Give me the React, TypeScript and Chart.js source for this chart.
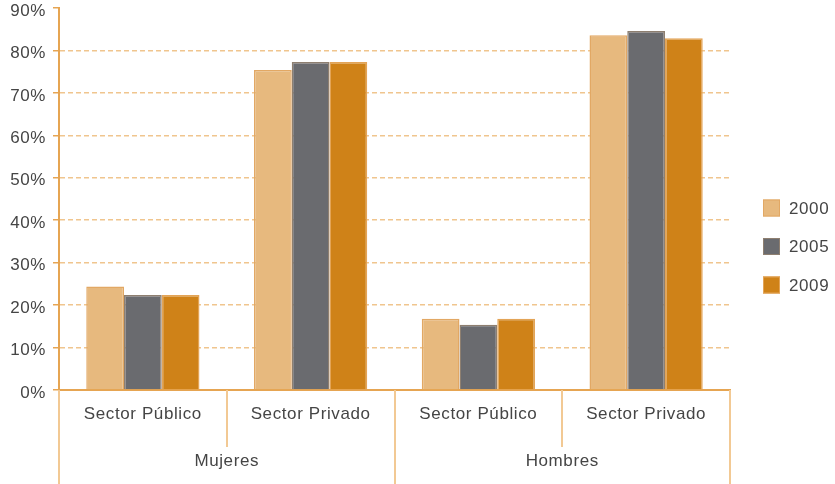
import React, { useEffect, useRef } from "react";
import { Chart, registerables } from "chart.js";

Chart.register(...registerables);

const categories = ["Sector Público", "Sector Privado", "Sector Público", "Sector Privado"];
const groups = ["Mujeres", "Hombres"];
const years = ["2000", "2005", "2009"];
const values2000 = [24.4, 75.4, 16.8, 83.6];
const values2005 = [22.4, 77.3, 15.4, 84.6];
const values2009 = [22.4, 77.3, 16.8, 82.9];
const yTicks = [0, 10, 20, 30, 40, 50, 60, 70, 80, 90];

const FONT = "'Liberation Sans', Arial, sans-serif";
const TEXT = "#454545";
const AXIS = "#E6A552";
const GRID = "#F0C58E";
const SEP = "#F2C994";

const spacingPlugin = {
  id: "spacing",
  beforeDraw(chart: any) {
    (chart.ctx as any).letterSpacing = "0.6px";
  },
};

const decorPlugin = {
  id: "decor",
  afterDraw(chart: any) {
    const ctx = chart.ctx;
    const x = chart.scales.x;
    const area = chart.chartArea;
    const n = categories.length;
    const step = (x.getPixelForValue(1) - x.getPixelForValue(0));
    ctx.save();
    (ctx as any).letterSpacing = "0.6px";
    ctx.strokeStyle = SEP;
    ctx.lineWidth = 2;
    for (let i = 0; i <= n; i++) {
      const px = Math.round(x.getPixelForValue(0) - step / 2 + i * step);
      const isGroupEdge = i % 2 === 0;
      ctx.beginPath();
      ctx.moveTo(px, area.bottom);
      ctx.lineTo(px, isGroupEdge ? chart.height : area.bottom + 57);
      ctx.stroke();
    }
    ctx.fillStyle = TEXT;
    ctx.font = `17px ${FONT}`;
    ctx.textAlign = "center";
    ctx.textBaseline = "middle";
    groups.forEach((g, gi) => {
      const cx = x.getPixelForValue(gi * 2) + step / 2;
      ctx.fillText(g, cx, area.bottom + 71);
    });
    // legend
    const ds = chart.data.datasets;
    const lx = area.right + 33;
    const startY = 208;
    ds.forEach((d: any, i: number) => {
      const cy = startY + i * 38.5;
      ctx.fillStyle = d.backgroundColor;
      ctx.fillRect(lx, cy - 8.5, 17, 17);
      ctx.strokeStyle = d.borderColor;
      ctx.lineWidth = 1;
      ctx.strokeRect(lx + 0.5, cy - 8, 16, 16);
      ctx.fillStyle = TEXT;
      ctx.textAlign = "left";
      ctx.fillText(d.label, lx + 26, cy + 1);
    });
    ctx.restore();
  },
};

export default function App() {
  const ref = useRef<HTMLCanvasElement>(null);
  useEffect(() => {
    document.body.style.margin = "0";
    const chart = new Chart(ref.current!, {
      type: "bar",
      data: {
        labels: categories,
        datasets: [
          { label: years[0], data: values2000, backgroundColor: "#E7B97E", borderColor: "#E2A864", borderWidth: 1.5 },
          { label: years[1], data: values2005, backgroundColor: "#6A6B6F", borderColor: "#8E7F70", borderWidth: 1.5 },
          { label: years[2], data: values2009, backgroundColor: "#CF8218", borderColor: "#E3A457", borderWidth: 1.5 },
        ],
      },
      options: {
        animation: false,
        responsive: true,
        maintainAspectRatio: false,
        datasets: { bar: { barPercentage: 1, categoryPercentage: 0.675 } },
        layout: { padding: { top: 8, right: 105, left: 0, bottom: 0 } },
        plugins: { legend: { display: false }, tooltip: { enabled: false } },
        scales: {
          x: {
            grid: { display: false, drawTicks: false },
            border: { display: true, color: AXIS, width: 2 },
            ticks: { color: TEXT, font: { family: FONT, size: 17 }, padding: 14, maxRotation: 0 },
            afterFit: (s: any) => { s.height = 94; s.paddingLeft = 0; s.paddingRight = 0; },
          },
          y: {
            min: 0,
            max: 90,
            afterBuildTicks: (s: any) => { s.ticks = yTicks.map((v) => ({ value: v })); },
            grid: {
              color: (c: any) => (c.tick && (c.tick.value === 0 || c.tick.value === 90) ? "rgba(0,0,0,0)" : GRID),
              tickColor: AXIS,
              lineWidth: 1.5,
              tickLength: 6,
              tickBorderDash: [],
            },
            border: { display: true, color: AXIS, width: 2, dash: [5, 3] as any },
            ticks: {
              color: TEXT,
              font: { family: FONT, size: 17 },
              padding: 7,
              labelOffset: 3,
              callback: (v: any) => `${v}%`,
            },
            afterFit: (s: any) => { s.width = 59; s.paddingTop = 0; s.paddingBottom = 0; },
          },
        },
      },
      plugins: [spacingPlugin, decorPlugin],
    });
    return () => chart.destroy();
  }, []);
  return (
    <div style={{ position: "relative", width: 835, height: 484 }}>
      <canvas ref={ref} />
    </div>
  );
}
